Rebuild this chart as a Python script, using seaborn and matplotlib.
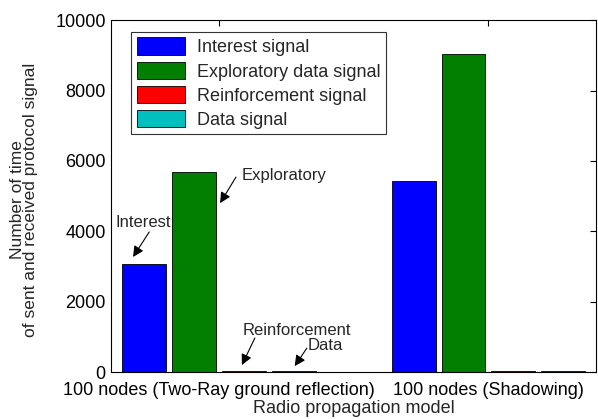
import pandas as pd
import numpy as np
import matplotlib
matplotlib.use('Agg')
import matplotlib.pyplot as plt
import seaborn as sns

# ── data ─────────────────────────────────────────────────────────────────────
models = ['100 nodes (Two-Ray ground reflection)', '100 nodes (Shadowing)']
signals = ['Interest signal', 'Exploratory data signal', 'Reinforcement signal', 'Data signal']
interest = [3060, 5430]
exploratory = [5680, 9030]
reinforcement = [35, 30]
data_sig = [30, 30]
colors = ['#0000FF', '#007F00', '#FF0000', '#00BFBF']
yticks = [0, 2000, 4000, 6000, 8000, 10000]

df = pd.DataFrame({
    'model': models * 4,
    'signal': np.repeat(signals, 2),
    'count': interest + exploratory + reinforcement + data_sig,
})

sns.set_theme(style='white')
plt.rcParams['font.family'] = ['Liberation Sans', 'DejaVu Sans']

fig, ax = plt.subplots(figsize=(5.98, 4.19), dpi=100)
fig.subplots_adjust(left=0.186, right=0.997, top=0.952, bottom=0.112)

sns.barplot(data=df, x='model', y='count', hue='signal', hue_order=signals,
            order=models, palette=colors, saturation=1, width=0.74, gap=0.12,
            edgecolor='black', linewidth=0.6, ax=ax)

ax.set_xlim(-0.4, 1.4)
ax.set_ylim(0, 10000)
ax.set_yticks(yticks)
ax.set_yticklabels([str(t) for t in yticks])
ax.tick_params(direction='in', top=True, right=True, length=4, width=0.8,
               labelsize=13, colors='black')
ax.tick_params(axis='x', pad=7)
ax.tick_params(axis='y', pad=4)
for s in ax.spines.values():
    s.set_color('black')
    s.set_linewidth(0.8)

ax.set_xlabel('Radio propagation model', fontsize=13, labelpad=1)
ax.set_ylabel('Number of time\nof sent and received protocol signal',
              fontsize=12.5, linespacing=0.9)
ax.yaxis.set_label_coords(-0.150, 0.49)

leg = ax.legend(loc='upper left', bbox_to_anchor=(0.041, 0.966), borderaxespad=0,
                fontsize=13, frameon=True, fancybox=False, edgecolor='black',
                handlelength=2.7, handleheight=1.1, borderpad=0.3,
                labelspacing=0.3, handletextpad=0.65)
leg.get_frame().set_linewidth(0.8)
for h in leg.legend_handles:
    h.set_edgecolor('black')

# annotation labels and arrows
arrow = dict(arrowstyle='-|>', color='black', lw=0.8, mutation_scale=16,
             shrinkA=0, shrinkB=0)
ax.text(-0.281, 4120, 'Interest', fontsize=12, ha='center', va='baseline')
ax.annotate('', xy=(-0.319, 3270), xytext=(-0.259, 3980), arrowprops=arrow)
ax.text(0.085, 5450, 'Exploratory', fontsize=12, ha='left', va='baseline')
ax.annotate('', xy=(0.004, 4800), xytext=(0.063, 5540), arrowprops=arrow)
ax.text(0.089, 1050, 'Reinforcement', fontsize=12, ha='left', va='baseline')
ax.annotate('', xy=(0.085, 200), xytext=(0.133, 966), arrowprops=arrow)
ax.text(0.33, 625, 'Data', fontsize=12, ha='left', va='baseline')
ax.annotate('', xy=(0.281, 170), xytext=(0.326, 680), arrowprops=arrow)

fig.savefig('out.png', dpi=100)
